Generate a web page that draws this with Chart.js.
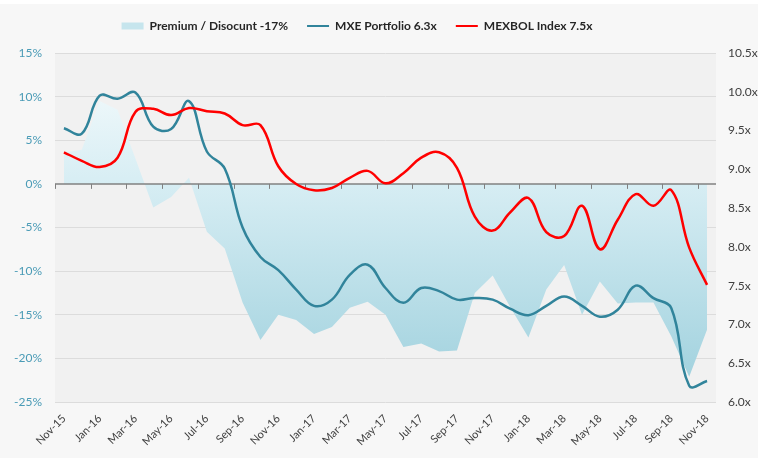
<!DOCTYPE html>
<html>
<head>
<meta charset="utf-8">
<script src="https://cdn.jsdelivr.net/npm/chart.js@4.4.0/dist/chart.umd.min.js"></script>
<style>
  html, body { margin: 0; padding: 0; background: #ffffff; }
  #wrap { width: 758px; height: 458px; }
</style>
</head>
<body>
<div id="wrap"><canvas id="chart" width="758" height="458"></canvas></div>
<script>
// monthly points, Nov-15 .. Nov-18
const months = ['Nov-15','Dec-15','Jan-16','Feb-16','Mar-16','Apr-16','May-16','Jun-16','Jul-16','Aug-16',
  'Sep-16','Oct-16','Nov-16','Dec-16','Jan-17','Feb-17','Mar-17','Apr-17','May-17','Jun-17',
  'Jul-17','Aug-17','Sep-17','Oct-17','Nov-17','Dec-17','Jan-18','Feb-18','Mar-18','Apr-18',
  'May-18','Jun-18','Jul-18','Aug-18','Sep-18','Oct-18','Nov-18'];

// premium / discount, % (left axis)
const premium = [3.6, 3.9, 9.5, 8.5, 2.9, -2.7, -1.5, 0.7, -5.5, -7.4,
  -13.6, -17.9, -15.0, -15.6, -17.2, -16.4, -14.2, -13.5, -15.0, -18.7,
  -18.3, -19.2, -19.1, -12.5, -10.5, -14.2, -17.6, -12.1, -9.3, -15.0,
  -11.2, -13.7, -13.6, -13.6, -17.5, -22.1, -16.7];

// P/E multiples (right axis)
const mxe = [9.53, 9.46, 9.95, 9.91, 9.99, 9.55, 9.52, 9.88, 9.23, 9.01,
  8.25, 7.87, 7.70, 7.45, 7.24, 7.32, 7.64, 7.77, 7.47, 7.28,
  7.47, 7.43, 7.32, 7.34, 7.32, 7.20, 7.12, 7.24, 7.36, 7.24,
  7.10, 7.19, 7.50, 7.34, 7.21, 6.21, 6.27];
const mexbol = [9.22, 9.11, 9.03, 9.15, 9.74, 9.78, 9.70, 9.79, 9.75, 9.72,
  9.57, 9.57, 9.04, 8.81, 8.73, 8.76, 8.89, 8.98, 8.82, 8.95,
  9.15, 9.22, 9.02, 8.39, 8.21, 8.45, 8.63, 8.19, 8.14, 8.53,
  7.97, 8.35, 8.68, 8.53, 8.73, 7.99, 7.51];

const seriesNames = ['Premium / Disocunt -17%', 'MXE Portfolio 6.3x', 'MEXBOL Index 7.5x'];

const FONT = 'Lato, "Open Sans", sans-serif';

// page + plot backgrounds
const backdrop = {
  id: 'backdrop',
  beforeDraw(chart) {
    const { ctx, chartArea: a } = chart;
    ctx.save();
    ctx.fillStyle = '#f7f7f7';
    ctx.fillRect(0, 4, chart.width, chart.height - 4);
    ctx.fillStyle = '#f1f1f1';
    ctx.fillRect(a.left, a.top, a.right - a.left, a.bottom - a.top);
    ctx.restore();
  }
};

// legend sits a bit left of centre and higher than chart.js puts it
const legendNudge = {
  id: 'legendNudge',
  afterLayout(chart) {
    const lg = chart.legend;
    if (!lg) return;
    lg.left -= 22; lg.right -= 22;
    lg.top -= 11; lg.bottom -= 11;
  }
};

// 0% axis line with tick marks, drawn over the area, under the lines
const zeroAxis = {
  id: 'zeroAxis',
  afterDatasetDraw(chart, args) {
    if (args.index !== 0) return;
    const { ctx, chartArea: a } = chart;
    const x = chart.scales.x, y = chart.scales.y;
    const y0 = y.getPixelForValue(0);
    const half = (x.getPixelForValue(1) - x.getPixelForValue(0)) / 2;
    ctx.save();
    ctx.strokeStyle = '#808080';
    ctx.lineWidth = 1.5;
    ctx.beginPath();
    ctx.moveTo(a.left, y0);
    ctx.lineTo(a.right, y0);
    ctx.stroke();
    ctx.lineWidth = 1;
    ctx.beginPath();
    for (let i = 0; i < months.length; i += 2) {
      const px = Math.round(x.getPixelForValue(i) - half) + 0.5;
      ctx.moveTo(px, y0);
      ctx.lineTo(px, y0 + 5);
    }
    ctx.stroke();
    ctx.restore();
  }
};

function areaFill(context) {
  const a = context.chart.chartArea;
  if (!a) return '#c5e4ec';
  const g = context.chart.ctx.createLinearGradient(0, a.top, 0, a.bottom);
  g.addColorStop(0, '#f8fcfd');
  g.addColorStop(0.36, '#d8eef4');
  g.addColorStop(1, '#9ccfdc');
  return g;
}

new Chart(document.getElementById('chart'), {
  type: 'line',
  data: {
    labels: months,
    datasets: [
      { label: seriesNames[0], data: premium, yAxisID: 'y', order: 3,
        fill: 'origin', backgroundColor: areaFill, borderWidth: 0, borderColor: 'rgba(0,0,0,0)',
        pointRadius: 0, tension: 0 },
      { label: seriesNames[1], data: mxe, yAxisID: 'y1', order: 2,
        borderColor: '#31849b', borderWidth: 2.5, pointRadius: 0, tension: 0.4, fill: false },
      { label: seriesNames[2], data: mexbol, yAxisID: 'y1', order: 1,
        borderColor: '#ff0000', borderWidth: 2.5, pointRadius: 0, tension: 0.4, fill: false }
    ]
  },
  options: {
    responsive: false,
    animation: false,
    layout: { padding: { top: 12, left: 0, right: 0, bottom: 0 } },
    plugins: {
      tooltip: { enabled: false },
      legend: {
        position: 'top',
        labels: {
          usePointStyle: true,
          pointStyleWidth: 22,
          boxHeight: 7,
          padding: 19,
          color: '#262626',
          font: { family: FONT, size: 12, weight: 'bold' },
          generateLabels(chart) {
            return chart.data.datasets.map((ds, i) => ({
              text: ds.label,
              datasetIndex: i,
              fillStyle: i === 0 ? '#c6e5ed' : ds.borderColor,
              strokeStyle: i === 0 ? '#c6e5ed' : ds.borderColor,
              lineWidth: i === 0 ? 0 : 2,
              pointStyle: i === 0 ? 'rect' : 'line',
              fontColor: '#262626'
            }));
          }
        }
      }
    },
    scales: {
      x: {
        offset: true,
        grid: { display: false },
        border: { display: false },
        afterFit(s) { s.height = 56; },
        ticks: {
          autoSkip: false, maxRotation: 45, minRotation: 45, padding: 2,
          color: '#404040', font: { family: FONT, size: 11 },
          callback(v, i) { return i % 2 === 0 ? months[i] : ''; }
        }
      },
      y: {
        position: 'left', min: -25, max: 15,
        afterFit(s) { s.width = 55; },
        border: { display: false },
        grid: { drawTicks: false, lineWidth: 1,
          color: c => c.tick && c.tick.value === 0 ? 'rgba(0,0,0,0)' : '#dcdcdc' },
        ticks: { stepSize: 5, padding: 13, color: '#4a9bb6',
          font: { family: FONT, size: 12 }, callback: v => v + '%' }
      },
      y1: {
        position: 'right', min: 6, max: 10.5,
        afterFit(s) { s.width = 42; },
        border: { display: false },
        grid: { display: false, drawTicks: false },
        ticks: { stepSize: 0.5, padding: 12, color: '#404040',
          font: { family: FONT, size: 12 }, callback: v => v.toFixed(1) + 'x' }
      }
    }
  },
  plugins: [backdrop, legendNudge, zeroAxis]
});
</script>
</body>
</html>
